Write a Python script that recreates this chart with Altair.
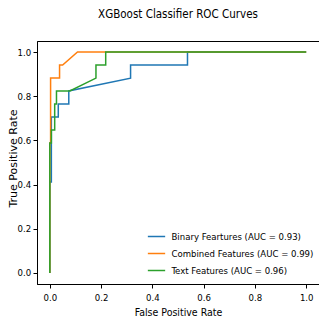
import altair as alt
import pandas as pd

labels = [
    "Binary Feartures (AUC = 0.93)",
    "Combined Features (AUC = 0.99)",
    "Text Features (AUC = 0.96)",
]
colors = ["#1f77b4", "#ff7f0e", "#2ca02c"]

binary_fpr = [0.0, 0.0, 0.006, 0.006, 0.033, 0.033, 0.074, 0.074, 0.315, 0.315, 0.537, 0.537, 1.0]
binary_tpr = [0.0, 0.412, 0.412, 0.706, 0.706, 0.765, 0.765, 0.824, 0.882, 0.941, 0.941, 1.0, 1.0]

combined_fpr = [0.0, 0.0, 0.003, 0.003, 0.038, 0.038, 0.050, 0.108, 1.0]
combined_tpr = [0.0, 0.588, 0.588, 0.882, 0.882, 0.941, 0.941, 1.0, 1.0]

text_fpr = [0.0, 0.0, 0.006, 0.006, 0.019, 0.019, 0.026, 0.026, 0.078, 0.180, 0.180, 0.218, 0.218, 1.0]
text_tpr = [0.0, 0.588, 0.588, 0.647, 0.647, 0.765, 0.765, 0.824, 0.824, 0.882, 0.941, 0.941, 1.0, 1.0]

tick_vals = [0.0, 0.2, 0.4, 0.6, 0.8, 1.0]

rows = []
for lab, fx, ty in zip(labels, [binary_fpr, combined_fpr, text_fpr], [binary_tpr, combined_tpr, text_tpr]):
    for i, (a, b) in enumerate(zip(fx, ty)):
        rows.append({"series": lab, "fpr": a, "tpr": b, "order": i})
df = pd.DataFrame(rows)

FONT = "DejaVu Sans Condensed"

chart = (
    alt.Chart(df)
    .mark_line(strokeWidth=1.5, clip=True)
    .encode(
        x=alt.X(
            "fpr:Q",
            scale=alt.Scale(domain=[-0.05, 1.05], nice=False, zero=False),
            axis=alt.Axis(
                values=tick_vals, format=".1f", title="False Positive Rate",
                grid=False, tickSize=4, labelPadding=4.5, titlePadding=5,
                labelFontSize=9.5, titleFontSize=10.5, titleFontWeight="normal",
                labelFont=FONT, titleFont=FONT,
                domainColor="black", tickColor="black", labelColor="black", titleColor="black",
                labelFlush=False,
            ),
        ),
        y=alt.Y(
            "tpr:Q",
            scale=alt.Scale(domain=[-0.05, 1.05], nice=False, zero=False),
            axis=alt.Axis(
                values=tick_vals, format=".1f", title="True Positive Rate",
                grid=False, tickSize=4, labelPadding=2.3,
                titleX=-20.5, titleY=117, titleAngle=270, titleBaseline="alphabetic", titleAlign="center",
                labelFontSize=9.5, titleFontSize=11, titleFontWeight="normal",
                labelFont=FONT, titleFont="DejaVu Sans",
                domainColor="black", tickColor="black", labelColor="black", titleColor="black",
                labelFlush=False,
            ),
        ),
        color=alt.Color(
            "series:N",
            scale=alt.Scale(domain=labels, range=colors),
            legend=alt.Legend(
                title=None, orient="none", legendX=108, legendY=184,
                symbolType="stroke", symbolSize=300, symbolStrokeWidth=1.5,
                labelFontSize=9.5, labelFont=FONT, labelColor="black",
                labelOffset=5.5, rowPadding=3, padding=2,
                labelLimit=300,
            ),
        ),
        order="order:Q",
    )
    .properties(
        width=282,
        height=243,
        padding={"left": 29, "top": 33, "right": 0, "bottom": 35},
        autosize="none",
        title=alt.TitleParams(
            "XGBoost Classifier ROC Curves", font=FONT, fontSize=11.5,
            fontWeight="normal", color="black", anchor="middle", frame="group", offset=20.5,
        ),
    )
    .configure_view(stroke="black", strokeWidth=1)
)

chart.save("out.html", embed_options={"renderer": "svg", "actions": False})
